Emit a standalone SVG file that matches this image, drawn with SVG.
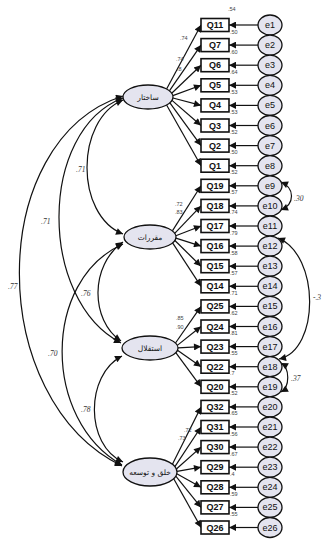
<svg xmlns="http://www.w3.org/2000/svg" width="323" height="539" viewBox="0 0 323 539">
<defs>
<style>
.bg{fill:#ffffff}
.box{fill:#ffffff;stroke:#111;stroke-width:1.6}
.bt{font-family:"Liberation Sans",Arial,sans-serif;font-size:9px;font-weight:bold;fill:#111;text-anchor:middle;dominant-baseline:central}
.err{fill:#e4e4ef;stroke:#111;stroke-width:1.3}
.et{font-family:"Liberation Sans",Arial,sans-serif;font-size:9px;fill:#111;text-anchor:middle;dominant-baseline:central}
.lat{fill:#e4e4ef;stroke:#111;stroke-width:1.3}
.lt{font-family:"DejaVu Sans","Noto Sans",sans-serif;font-size:7.5px;fill:#111;text-anchor:middle;dominant-baseline:central}
.c line,.c path{stroke:#111;stroke-width:1.2;fill:none}
.ar{marker-end:url(#ah)}
.dbl{marker-start:url(#ah);marker-end:url(#ah)}
.sm{font-family:"Liberation Sans",Arial,sans-serif;font-size:5.5px;fill:#444}
.cv{font-family:"Liberation Serif","Times New Roman",serif;font-size:7.5px;font-style:italic;fill:#333}
</style>
<marker id="ah" viewBox="0 0 10 10" refX="10" refY="5" markerWidth="9" markerHeight="7" markerUnits="userSpaceOnUse" orient="auto-start-reverse"><path d="M0,0 L10,5 L0,10 z" fill="#111"/></marker>
</defs>
<rect class="bg" x="0" y="0" width="323" height="539"/>

<g id="connectors" class="c">
<line class="ar" x1="166.6" y1="89" x2="201" y2="25"/>
<line class="ar" x1="169.4" y1="90.8" x2="201" y2="45.1"/>
<line class="ar" x1="171.7" y1="93.2" x2="201" y2="65.2"/>
<line class="ar" x1="172.8" y1="95.6" x2="201" y2="85.3"/>
<line class="ar" x1="172.9" y1="98" x2="201" y2="105.4"/>
<line class="ar" x1="172" y1="100.4" x2="201" y2="125.5"/>
<line class="ar" x1="169.9" y1="102.8" x2="201" y2="145.6"/>
<line class="ar" x1="166.6" y1="105" x2="201" y2="165.7"/>
<line class="ar" x1="172.4" y1="230.9" x2="201" y2="185.8"/>
<line class="ar" x1="174.7" y1="233.3" x2="201" y2="205.9"/>
<line class="ar" x1="175.8" y1="235.7" x2="201" y2="226"/>
<line class="ar" x1="175.9" y1="238.1" x2="201" y2="246.1"/>
<line class="ar" x1="174.9" y1="240.5" x2="201" y2="266.2"/>
<line class="ar" x1="172.6" y1="242.9" x2="201" y2="286.3"/>
<line class="ar" x1="175.5" y1="343" x2="201" y2="306.4"/>
<line class="ar" x1="177.3" y1="345.4" x2="201" y2="326.5"/>
<line class="ar" x1="178" y1="347.8" x2="201" y2="346.6"/>
<line class="ar" x1="177.5" y1="350.2" x2="201" y2="366.7"/>
<line class="ar" x1="175.8" y1="352.7" x2="201" y2="386.8"/>
<line class="ar" x1="172.4" y1="464.2" x2="201" y2="406.9"/>
<line class="ar" x1="174.9" y1="466.6" x2="201" y2="427"/>
<line class="ar" x1="176.4" y1="469" x2="201" y2="447.1"/>
<line class="ar" x1="177" y1="471.4" x2="201" y2="467.2"/>
<line class="ar" x1="176.8" y1="473.8" x2="201" y2="487.3"/>
<line class="ar" x1="175.8" y1="476.2" x2="201" y2="507.4"/>
<line class="ar" x1="173.7" y1="478.7" x2="201" y2="527.5"/>
<line class="ar" x1="258" y1="25" x2="229" y2="25"/>
<line class="ar" x1="258" y1="45.1" x2="229" y2="45.1"/>
<line class="ar" x1="258" y1="65.2" x2="229" y2="65.2"/>
<line class="ar" x1="258" y1="85.3" x2="229" y2="85.3"/>
<line class="ar" x1="258" y1="105.4" x2="229" y2="105.4"/>
<line class="ar" x1="258" y1="125.5" x2="229" y2="125.5"/>
<line class="ar" x1="258" y1="145.6" x2="229" y2="145.6"/>
<line class="ar" x1="258" y1="165.7" x2="229" y2="165.7"/>
<line class="ar" x1="258" y1="185.8" x2="229" y2="185.8"/>
<line class="ar" x1="258" y1="205.9" x2="229" y2="205.9"/>
<line class="ar" x1="258" y1="226" x2="229" y2="226"/>
<line class="ar" x1="258" y1="246.1" x2="229" y2="246.1"/>
<line class="ar" x1="258" y1="266.2" x2="229" y2="266.2"/>
<line class="ar" x1="258" y1="286.3" x2="229" y2="286.3"/>
<line class="ar" x1="258" y1="306.4" x2="229" y2="306.4"/>
<line class="ar" x1="258" y1="326.5" x2="229" y2="326.5"/>
<line class="ar" x1="258" y1="346.6" x2="229" y2="346.6"/>
<line class="ar" x1="258" y1="366.7" x2="229" y2="366.7"/>
<line class="ar" x1="258" y1="386.8" x2="229" y2="386.8"/>
<line class="ar" x1="258" y1="406.9" x2="229" y2="406.9"/>
<line class="ar" x1="258" y1="427" x2="229" y2="427"/>
<line class="ar" x1="258" y1="447.1" x2="229" y2="447.1"/>
<line class="ar" x1="258" y1="467.2" x2="229" y2="467.2"/>
<line class="ar" x1="258" y1="487.3" x2="229" y2="487.3"/>
<line class="ar" x1="258" y1="507.4" x2="229" y2="507.4"/>
<line class="ar" x1="258" y1="527.5" x2="229" y2="527.5"/>
<path class="dbl" d="M123,100 C75,120 75,215 123,234"/>
<path class="dbl" d="M123,98 C38,130 38,300 121,343"/>
<path class="dbl" d="M123,96 C-15,140 -15,400 122,466"/>
<path class="dbl" d="M123,242 C90,265 90,320 121,341"/>
<path class="dbl" d="M123,244 C42,280 42,420 122,465"/>
<path class="dbl" d="M122,356 C85,375 85,445 123,462"/>
<path class="dbl" d="M281,182 C295,188 295,204 281,210"/>
<path class="dbl" d="M278,238 C320,255 320,350 279,359"/>
<path class="dbl" d="M281,363 C290,368 290,387 281,392"/>
</g>

<g id="labels">
<text class="cv" x="76" y="172">.71</text>
<text class="cv" x="41" y="224">.71</text>
<text class="cv" x="8" y="289">.77</text>
<text class="cv" x="81" y="296">.76</text>
<text class="cv" x="48" y="356">.70</text>
<text class="cv" x="81" y="412">.78</text>
<text class="cv" x="294" y="201">.30</text>
<text class="cv" x="313" y="300">-.3</text>
<text class="cv" x="291" y="381">.37</text>
<text class="sm" x="180" y="40">.74</text>
<text class="sm" x="176" y="61">.74</text>
<text class="sm" x="177" y="71">.8</text>
<text class="sm" x="175" y="206">.72</text>
<text class="sm" x="175" y="214">.83</text>
<text class="sm" x="176" y="320">.85</text>
<text class="sm" x="176" y="329">.90</text>
<text class="sm" x="184" y="432">.72</text>
<text class="sm" x="178" y="440">.73</text>
<text class="sm" x="228" y="11">.54</text>
<text class="sm" x="230" y="34">.50</text>
<text class="sm" x="230" y="54">.60</text>
<text class="sm" x="230" y="74">.64</text>
<text class="sm" x="230" y="94">.53</text>
<text class="sm" x="230" y="114">.53</text>
<text class="sm" x="230" y="134">.52</text>
<text class="sm" x="230" y="154">.50</text>
<text class="sm" x="230" y="174">.52</text>
<text class="sm" x="230" y="194">.57</text>
<text class="sm" x="230" y="214">.74</text>
<text class="sm" x="230" y="235">.79</text>
<text class="sm" x="230" y="255">.58</text>
<text class="sm" x="230" y="275">.57</text>
<text class="sm" x="230" y="295">.71</text>
<text class="sm" x="230" y="315">.62</text>
<text class="sm" x="230" y="335">.81</text>
<text class="sm" x="230" y="355">.55</text>
<text class="sm" x="230" y="375">.7</text>
<text class="sm" x="230" y="395">.52</text>
<text class="sm" x="230" y="415">.65</text>
<text class="sm" x="230" y="436">.56</text>
<text class="sm" x="230" y="456">.67</text>
<text class="sm" x="230" y="476">.4</text>
<text class="sm" x="230" y="496">.59</text>
<text class="sm" x="230" y="516">.55</text>
</g>

<g id="F1"><ellipse class="lat" cx="148" cy="97" rx="25" ry="12"/><text class="lt" x="148" y="97">ساختار</text></g>
<g id="F2"><ellipse class="lat" cx="150" cy="237" rx="26" ry="12"/><text class="lt" x="150" y="237">مقررات</text></g>
<g id="F3"><ellipse class="lat" cx="150" cy="348" rx="28" ry="12"/><text class="lt" x="150" y="348">استقلال</text></g>
<g id="F4"><ellipse class="lat" cx="150" cy="472" rx="27" ry="14"/><text class="lt" x="150" y="472">خلق و توسعه</text></g>

<g id="Q11"><rect class="box" x="201" y="18.5" width="28" height="13"/><text class="bt" x="215" y="25">Q11</text></g>
<g id="Q7"><rect class="box" x="201" y="38.6" width="28" height="13"/><text class="bt" x="215" y="45.1">Q7</text></g>
<g id="Q6"><rect class="box" x="201" y="58.7" width="28" height="13"/><text class="bt" x="215" y="65.2">Q6</text></g>
<g id="Q5"><rect class="box" x="201" y="78.8" width="28" height="13"/><text class="bt" x="215" y="85.3">Q5</text></g>
<g id="Q4"><rect class="box" x="201" y="98.9" width="28" height="13"/><text class="bt" x="215" y="105.4">Q4</text></g>
<g id="Q3"><rect class="box" x="201" y="119" width="28" height="13"/><text class="bt" x="215" y="125.5">Q3</text></g>
<g id="Q2"><rect class="box" x="201" y="139.1" width="28" height="13"/><text class="bt" x="215" y="145.6">Q2</text></g>
<g id="Q1"><rect class="box" x="201" y="159.2" width="28" height="13"/><text class="bt" x="215" y="165.7">Q1</text></g>
<g id="Q19"><rect class="box" x="201" y="179.3" width="28" height="13"/><text class="bt" x="215" y="185.8">Q19</text></g>
<g id="Q18"><rect class="box" x="201" y="199.4" width="28" height="13"/><text class="bt" x="215" y="205.9">Q18</text></g>
<g id="Q17"><rect class="box" x="201" y="219.5" width="28" height="13"/><text class="bt" x="215" y="226">Q17</text></g>
<g id="Q16"><rect class="box" x="201" y="239.6" width="28" height="13"/><text class="bt" x="215" y="246.1">Q16</text></g>
<g id="Q15"><rect class="box" x="201" y="259.7" width="28" height="13"/><text class="bt" x="215" y="266.2">Q15</text></g>
<g id="Q14"><rect class="box" x="201" y="279.8" width="28" height="13"/><text class="bt" x="215" y="286.3">Q14</text></g>
<g id="Q25"><rect class="box" x="201" y="299.9" width="28" height="13"/><text class="bt" x="215" y="306.4">Q25</text></g>
<g id="Q24"><rect class="box" x="201" y="320" width="28" height="13"/><text class="bt" x="215" y="326.5">Q24</text></g>
<g id="Q23"><rect class="box" x="201" y="340.1" width="28" height="13"/><text class="bt" x="215" y="346.6">Q23</text></g>
<g id="Q22"><rect class="box" x="201" y="360.2" width="28" height="13"/><text class="bt" x="215" y="366.7">Q22</text></g>
<g id="Q20"><rect class="box" x="201" y="380.3" width="28" height="13"/><text class="bt" x="215" y="386.8">Q20</text></g>
<g id="Q32"><rect class="box" x="201" y="400.4" width="28" height="13"/><text class="bt" x="215" y="406.9">Q32</text></g>
<g id="Q31"><rect class="box" x="201" y="420.5" width="28" height="13"/><text class="bt" x="215" y="427">Q31</text></g>
<g id="Q30"><rect class="box" x="201" y="440.6" width="28" height="13"/><text class="bt" x="215" y="447.1">Q30</text></g>
<g id="Q29"><rect class="box" x="201" y="460.7" width="28" height="13"/><text class="bt" x="215" y="467.2">Q29</text></g>
<g id="Q28"><rect class="box" x="201" y="480.8" width="28" height="13"/><text class="bt" x="215" y="487.3">Q28</text></g>
<g id="Q27"><rect class="box" x="201" y="500.9" width="28" height="13"/><text class="bt" x="215" y="507.4">Q27</text></g>
<g id="Q26"><rect class="box" x="201" y="521" width="28" height="13"/><text class="bt" x="215" y="527.5">Q26</text></g>

<g id="e1"><ellipse class="err" cx="270" cy="25" rx="12" ry="10"/><text class="et" x="270" y="25">e1</text></g>
<g id="e2"><ellipse class="err" cx="270" cy="45.1" rx="12" ry="10"/><text class="et" x="270" y="45.1">e2</text></g>
<g id="e3"><ellipse class="err" cx="270" cy="65.2" rx="12" ry="10"/><text class="et" x="270" y="65.2">e3</text></g>
<g id="e4"><ellipse class="err" cx="270" cy="85.3" rx="12" ry="10"/><text class="et" x="270" y="85.3">e4</text></g>
<g id="e5"><ellipse class="err" cx="270" cy="105.4" rx="12" ry="10"/><text class="et" x="270" y="105.4">e5</text></g>
<g id="e6"><ellipse class="err" cx="270" cy="125.5" rx="12" ry="10"/><text class="et" x="270" y="125.5">e6</text></g>
<g id="e7"><ellipse class="err" cx="270" cy="145.6" rx="12" ry="10"/><text class="et" x="270" y="145.6">e7</text></g>
<g id="e8"><ellipse class="err" cx="270" cy="165.7" rx="12" ry="10"/><text class="et" x="270" y="165.7">e8</text></g>
<g id="e9"><ellipse class="err" cx="270" cy="185.8" rx="12" ry="10"/><text class="et" x="270" y="185.8">e9</text></g>
<g id="e10"><ellipse class="err" cx="270" cy="205.9" rx="12" ry="10"/><text class="et" x="270" y="205.9">e10</text></g>
<g id="e11"><ellipse class="err" cx="270" cy="226" rx="12" ry="10"/><text class="et" x="270" y="226">e11</text></g>
<g id="e12"><ellipse class="err" cx="270" cy="246.1" rx="12" ry="10"/><text class="et" x="270" y="246.1">e12</text></g>
<g id="e13"><ellipse class="err" cx="270" cy="266.2" rx="12" ry="10"/><text class="et" x="270" y="266.2">e13</text></g>
<g id="e14"><ellipse class="err" cx="270" cy="286.3" rx="12" ry="10"/><text class="et" x="270" y="286.3">e14</text></g>
<g id="e15"><ellipse class="err" cx="270" cy="306.4" rx="12" ry="10"/><text class="et" x="270" y="306.4">e15</text></g>
<g id="e16"><ellipse class="err" cx="270" cy="326.5" rx="12" ry="10"/><text class="et" x="270" y="326.5">e16</text></g>
<g id="e17"><ellipse class="err" cx="270" cy="346.6" rx="12" ry="10"/><text class="et" x="270" y="346.6">e17</text></g>
<g id="e18"><ellipse class="err" cx="270" cy="366.7" rx="12" ry="10"/><text class="et" x="270" y="366.7">e18</text></g>
<g id="e19"><ellipse class="err" cx="270" cy="386.8" rx="12" ry="10"/><text class="et" x="270" y="386.8">e19</text></g>
<g id="e20"><ellipse class="err" cx="270" cy="406.9" rx="12" ry="10"/><text class="et" x="270" y="406.9">e20</text></g>
<g id="e21"><ellipse class="err" cx="270" cy="427" rx="12" ry="10"/><text class="et" x="270" y="427">e21</text></g>
<g id="e22"><ellipse class="err" cx="270" cy="447.1" rx="12" ry="10"/><text class="et" x="270" y="447.1">e22</text></g>
<g id="e23"><ellipse class="err" cx="270" cy="467.2" rx="12" ry="10"/><text class="et" x="270" y="467.2">e23</text></g>
<g id="e24"><ellipse class="err" cx="270" cy="487.3" rx="12" ry="10"/><text class="et" x="270" y="487.3">e24</text></g>
<g id="e25"><ellipse class="err" cx="270" cy="507.4" rx="12" ry="10"/><text class="et" x="270" y="507.4">e25</text></g>
<g id="e26"><ellipse class="err" cx="270" cy="527.5" rx="12" ry="10"/><text class="et" x="270" y="527.5">e26</text></g>
</svg>
